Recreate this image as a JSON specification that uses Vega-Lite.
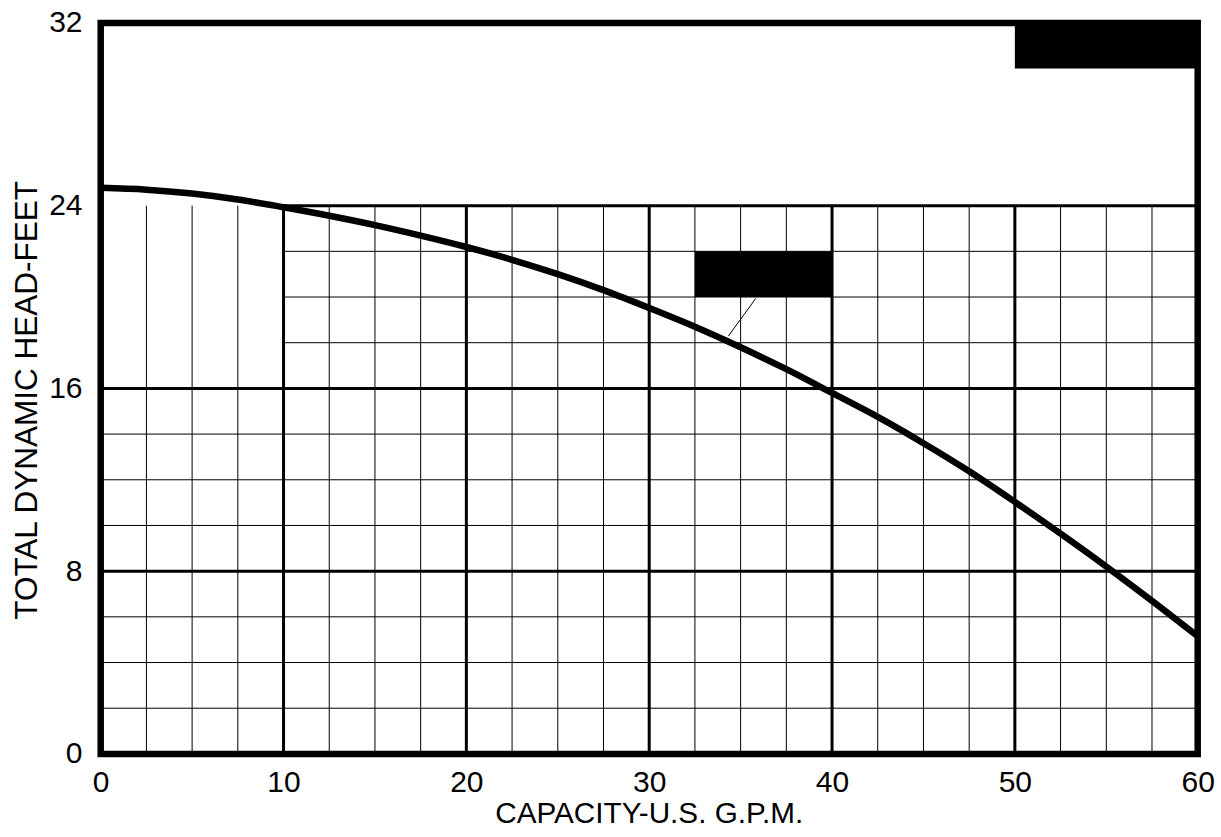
{
  "$schema": "https://vega.github.io/schema/vega-lite/v6.json",
  "width": 1097,
  "height": 731,
  "autosize": "none",
  "padding": {"left": 100.7, "top": 22.9, "right": 23.3, "bottom": 83.1},
  "background": "white",
  "config": {
    "view": {"stroke": "black", "strokeWidth": 6.5},
    "font": "Liberation Sans"
  },
  "datasets": {
    "minor": [
      {"x": 2.5, "x2": 2.5, "y": 0, "y2": 24},
      {"x": 5, "x2": 5, "y": 0, "y2": 24},
      {"x": 7.5, "x2": 7.5, "y": 0, "y2": 24},
      {"x": 12.5, "x2": 12.5, "y": 0, "y2": 24},
      {"x": 15, "x2": 15, "y": 0, "y2": 24},
      {"x": 17.5, "x2": 17.5, "y": 0, "y2": 24},
      {"x": 22.5, "x2": 22.5, "y": 0, "y2": 24},
      {"x": 25, "x2": 25, "y": 0, "y2": 24},
      {"x": 27.5, "x2": 27.5, "y": 0, "y2": 24},
      {"x": 32.5, "x2": 32.5, "y": 0, "y2": 24},
      {"x": 35, "x2": 35, "y": 0, "y2": 24},
      {"x": 37.5, "x2": 37.5, "y": 0, "y2": 24},
      {"x": 42.5, "x2": 42.5, "y": 0, "y2": 24},
      {"x": 45, "x2": 45, "y": 0, "y2": 24},
      {"x": 47.5, "x2": 47.5, "y": 0, "y2": 24},
      {"x": 52.5, "x2": 52.5, "y": 0, "y2": 24},
      {"x": 55, "x2": 55, "y": 0, "y2": 24},
      {"x": 57.5, "x2": 57.5, "y": 0, "y2": 24},
      {"x": 0, "x2": 60, "y": 2, "y2": 2},
      {"x": 0, "x2": 60, "y": 4, "y2": 4},
      {"x": 0, "x2": 60, "y": 6, "y2": 6},
      {"x": 0, "x2": 60, "y": 10, "y2": 10},
      {"x": 0, "x2": 60, "y": 12, "y2": 12},
      {"x": 0, "x2": 60, "y": 14, "y2": 14},
      {"x": 10, "x2": 60, "y": 18, "y2": 18},
      {"x": 10, "x2": 60, "y": 20, "y2": 20},
      {"x": 10, "x2": 60, "y": 22, "y2": 22}
    ],
    "major": [
      {"x": 10, "x2": 10, "y": 0, "y2": 24},
      {"x": 20, "x2": 20, "y": 0, "y2": 24},
      {"x": 30, "x2": 30, "y": 0, "y2": 24},
      {"x": 40, "x2": 40, "y": 0, "y2": 24},
      {"x": 50, "x2": 50, "y": 0, "y2": 24},
      {"x": 0, "x2": 60, "y": 8, "y2": 8},
      {"x": 0, "x2": 60, "y": 16, "y2": 16},
      {"x": 10, "x2": 60, "y": 24, "y2": 24}
    ],
    "boxes": [
      {"x": 32.5, "x2": 40, "y": 20, "y2": 22},
      {"x": 50, "x2": 60, "y": 30, "y2": 32}
    ],
    "leader": [
      {"x": 35.83, "x2": 34.33, "y": 19.94, "y2": 18.29}
    ],
    "curve": [
      {"gpm": 0, "head": 24.78},
      {"gpm": 2.5, "head": 24.70},
      {"gpm": 5, "head": 24.53},
      {"gpm": 7.5, "head": 24.27},
      {"gpm": 10, "head": 23.93},
      {"gpm": 12.5, "head": 23.56},
      {"gpm": 15, "head": 23.15},
      {"gpm": 17.5, "head": 22.69},
      {"gpm": 20, "head": 22.19},
      {"gpm": 22.5, "head": 21.63},
      {"gpm": 25, "head": 21.0},
      {"gpm": 27.5, "head": 20.3},
      {"gpm": 30, "head": 19.52},
      {"gpm": 32.5, "head": 18.7},
      {"gpm": 35, "head": 17.8},
      {"gpm": 37.5, "head": 16.84},
      {"gpm": 40, "head": 15.8},
      {"gpm": 42.5, "head": 14.75},
      {"gpm": 45, "head": 13.6},
      {"gpm": 47.5, "head": 12.37},
      {"gpm": 50, "head": 11.03},
      {"gpm": 52.5, "head": 9.64},
      {"gpm": 55, "head": 8.2},
      {"gpm": 57.5, "head": 6.7},
      {"gpm": 60, "head": 5.15}
    ]
  },
  "layer": [
    {
      "data": {"name": "minor"},
      "mark": {"type": "rule", "color": "black", "strokeWidth": 1},
      "encoding": {
        "x": {
          "field": "x",
          "type": "quantitative",
          "scale": {"domain": [0, 60], "nice": false, "zero": false},
          "axis": {
            "title": "CAPACITY-U.S. G.P.M.",
            "values": [0, 10, 20, 30, 40, 50, 60],
            "grid": false,
            "domain": false,
            "ticks": false,
            "tickSize": 0,
            "labelFont": "Liberation Sans",
            "labelFontSize": 30,
            "labelColor": "black",
            "labelBaseline": "alphabetic",
            "labelPadding": 38,
            "labelFlush": false,
            "labelOverlap": false,
            "titleFont": "Liberation Sans",
            "titleFontSize": 29.7,
            "titleFontWeight": "normal",
            "titleColor": "black",
            "titleBaseline": "alphabetic",
            "titleX": 548,
            "titleY": 68.5
          }
        },
        "x2": {"field": "x2"},
        "y": {
          "field": "y",
          "type": "quantitative",
          "scale": {"domain": [0, 32], "nice": false, "zero": false},
          "axis": {
            "title": "TOTAL DYNAMIC HEAD-FEET",
            "values": [0, 8, 16, 24, 32],
            "grid": false,
            "domain": false,
            "ticks": false,
            "tickSize": 0,
            "labelFont": "Liberation Sans",
            "labelFontSize": 30,
            "labelColor": "black",
            "labelBaseline": "middle",
            "labelPadding": 18.7,
            "labelFlush": false,
            "labelOverlap": false,
            "titleFont": "Liberation Sans",
            "titleFontSize": 31.5,
            "titleFontWeight": "normal",
            "titleColor": "black",
            "titleAngle": -90,
            "titleBaseline": "alphabetic",
            "titleX": -64,
            "titleY": 377
          }
        },
        "y2": {"field": "y2"}
      }
    },
    {
      "data": {"name": "major"},
      "mark": {"type": "rule", "color": "black", "strokeWidth": 3},
      "encoding": {
        "x": {"field": "x", "type": "quantitative"},
        "x2": {"field": "x2"},
        "y": {"field": "y", "type": "quantitative"},
        "y2": {"field": "y2"}
      }
    },
    {
      "data": {"name": "boxes"},
      "mark": {"type": "rect", "color": "black"},
      "encoding": {
        "x": {"field": "x", "type": "quantitative"},
        "x2": {"field": "x2"},
        "y": {"field": "y", "type": "quantitative"},
        "y2": {"field": "y2"}
      }
    },
    {
      "data": {"name": "leader"},
      "mark": {"type": "rule", "color": "black", "strokeWidth": 1},
      "encoding": {
        "x": {"field": "x", "type": "quantitative"},
        "x2": {"field": "x2"},
        "y": {"field": "y", "type": "quantitative"},
        "y2": {"field": "y2"}
      }
    },
    {
      "data": {"name": "curve"},
      "mark": {"type": "line", "color": "black", "strokeWidth": 6.5, "interpolate": "monotone", "strokeCap": "butt"},
      "encoding": {
        "x": {"field": "gpm", "type": "quantitative"},
        "y": {"field": "head", "type": "quantitative"}
      }
    }
  ]
}
